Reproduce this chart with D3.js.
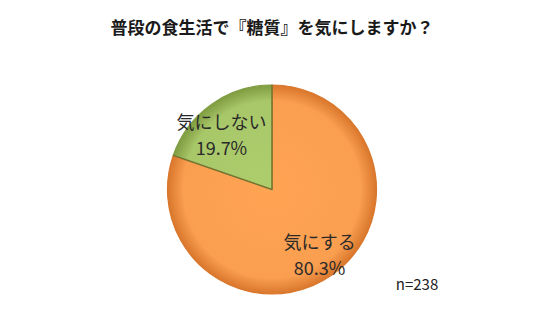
<!DOCTYPE html>
<html>
<head>
<meta charset="utf-8">
<script src="https://cdn.jsdelivr.net/npm/d3@7"></script>
<style>
  body { margin: 0; background: #fff; }
  text { font-family: "Noto Sans CJK JP", "Noto Sans", sans-serif; }
</style>
</head>
<body>
<div id="chart"></div>
<script>
// data
var categories = ["気にする", "気にしない"];
var values = [80.3, 19.7];
var title = "普段の食生活で『糖質』を気にしますか？";
var note = "n=238";

var width = 544, height = 336;
var cx = 272, cy = 189.5, radius = 104.5;

var fills = ["#FA9E50", "#A8C769"];
var edges = ["#D9772C", "#7F9C40"];
// extra nudges for the labels (Excel-like placement)
var labelShift = [[0, -1], [-3, 12]];

var svg = d3.select("#chart").append("svg")
    .attr("width", width)
    .attr("height", height);

var defs = svg.append("defs");
fills.forEach(function(c, i) {
    var g = defs.append("radialGradient")
        .attr("id", "grad" + i)
        .attr("gradientUnits", "userSpaceOnUse")
        .attr("cx", 0).attr("cy", 0).attr("r", radius);
    g.append("stop").attr("offset", "0%").attr("stop-color", d3.color(c).brighter(0.1));
    g.append("stop").attr("offset", "85%").attr("stop-color", c);
    g.append("stop").attr("offset", "100%").attr("stop-color", edges[i]);
});

svg.append("text")
    .attr("x", width / 2)
    .attr("y", 34)
    .attr("text-anchor", "middle")
    .attr("font-size", 17)
    .attr("font-weight", "bold")
    .attr("fill", "#1a1a1a")
    .text(title);

var pie = d3.pie().sort(null).value(function(d) { return d; });
var arcs = pie(values);

var arc = d3.arc().innerRadius(0).outerRadius(radius);
var labelArc = d3.arc().innerRadius(82).outerRadius(82);

var g = svg.append("g").attr("transform", "translate(" + cx + "," + cy + ")");

g.selectAll("path.slice")
    .data(arcs)
    .enter().append("path")
    .attr("class", "slice")
    .attr("d", arc)
    .attr("fill", function(d, i) { return "url(#grad" + i + ")"; })
    .attr("stroke", function(d, i) { return edges[i]; })
    .attr("stroke-width", 1.2);

// dark seam along the slice borders
g.selectAll("path.seam")
    .data(arcs)
    .enter().append("path")
    .attr("class", "seam")
    .attr("d", function(d) {
        var a = d.startAngle;
        return "M0,0L" + (radius * Math.sin(a)) + "," + (-radius * Math.cos(a));
    })
    .attr("stroke", "#6b5a2a")
    .attr("stroke-opacity", 0.6)
    .attr("stroke-width", 1.5);

var labels = g.selectAll("g.label")
    .data(arcs)
    .enter().append("g")
    .attr("class", "label")
    .attr("transform", function(d, i) {
        var c = labelArc.centroid(d);
        return "translate(" + (c[0] + labelShift[i][0]) + "," + (c[1] + labelShift[i][1]) + ")";
    });

labels.append("text")
    .attr("text-anchor", "middle")
    .attr("y", -6)
    .attr("font-size", 18)
    .attr("fill", "#2a2a2a")
    .text(function(d, i) { return categories[i]; });

labels.append("text")
    .attr("text-anchor", "middle")
    .attr("y", 20)
    .attr("font-size", 18)
    .attr("fill", "#2a2a2a")
    .text(function(d) { return d.value.toFixed(1) + "%"; });

svg.append("text")
    .attr("x", 417)
    .attr("y", 290)
    .attr("text-anchor", "middle")
    .attr("font-size", 15)
    .attr("fill", "#222")
    .text(note);
</script>
</body>
</html>
